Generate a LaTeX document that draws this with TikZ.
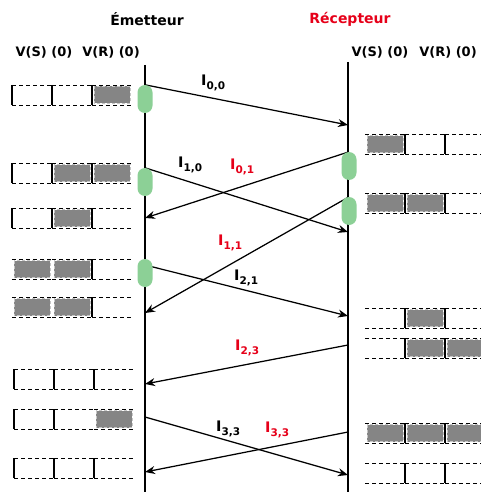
\documentclass[tikz,border=0pt]{standalone}
\usepackage{fontspec}
\setmainfont{DejaVu Sans}
\usepackage{tikz}
\usepackage{xcolor}
\usetikzlibrary{arrows.meta,backgrounds}

\definecolor{rouge}{RGB}{230,0,25}
\definecolor{vert}{RGB}{140,208,150}
\definecolor{gris}{RGB}{133,133,133}

\newcommand{\etiq}[1]{I\raisebox{-0.45ex}{\fontsize{10.5}{11}\selectfont #1}}

\newcommand{\rangee}[4]{%
	\foreach \c in {#3} {\ifnum\c>0 \filldraw[fill=gris, draw=gray!45, densely dashed, line width=0.7] (#1+\c*40-38, #2+1.5) rectangle (#1+\c*40-2, #2+18.5);\fi}
	\foreach \c in {0,1,2} {\draw[pointille] (#1+\c*40, #2) -- ++(40,0) (#1+\c*40, #2+20) -- ++(40,0);}
	\foreach \s in {#4} {\draw[line width=1.3] (#1+\s*40, #2) -- ++(0,20);}
}

\begin{document}
\begin{tikzpicture}[x=1pt,y=-1pt]
	\tikzstyle{fleche} = [-{Stealth[length=10pt,width=8pt]}, line width=1.25]
	\tikzstyle{axe} = [line width=1.5]
	\tikzstyle{pointille} = [dash pattern=on 4pt off 3pt, line width=0.9]
	\tikzstyle{pilule} = [fill=vert, rounded corners=7.5pt, minimum width=15pt, minimum height=28pt, inner sep=0pt]
	\tikzstyle{titre} = [font=\fontsize{14}{16}\selectfont\bfseries, inner sep=0pt]
	\tikzstyle{entete} = [font=\fontsize{13}{15}\selectfont\bfseries, inner sep=0pt]
	\tikzstyle{lbl} = [font=\fontsize{14.5}{16}\selectfont\bfseries, anchor=west, inner sep=0pt]
	\useasboundingbox (0,0) rectangle (481,492);
		\node[titre] (emet) at (147,19) {Émetteur};
		\node[titre, text=rouge] (recep) at (350,19) {Récepteur};
		\node[entete] (vsE) at (44,52) {V(S) (0)};
		\node[entete] (vrE) at (111,52) {V(R) (0)};
		\node[entete] (vsR) at (380,52) {V(S) (0)};
		\node[entete] (vrR) at (448,52) {V(R) (0)};
		\coordinate (eHaut) at (145,65);
		\coordinate (eBas) at (145,492);
		\coordinate (rHaut) at (348,62);
		\coordinate (rBas) at (348,492);
		\node[pilule] (pE1) at (145,99) {};
		\node[pilule] (pE2) at (145,182) {};
		\node[pilule] (pE3) at (145,273) {};
		\node[pilule] (pR1) at (349,166) {};
		\node[pilule] (pR2) at (349,211) {};
		\coordinate (dE3) at (145,265);
		\coordinate (dR6) at (348,345);
		\coordinate (dE7) at (145,417);
		\coordinate (dR8) at (348,432);
		\coordinate (r1) at (348,125);
		\coordinate (r2) at (348,232);
		\coordinate (e3) at (145,218);
		\coordinate (e4) at (145,313);
		\coordinate (r5) at (348,316);
		\coordinate (e6) at (145,384);
		\coordinate (r7) at (348,475);
		\coordinate (e8) at (145,472);
	\begin{scope}[on background layer]
	\draw[axe] (eHaut) -- (eBas);
	\draw[axe] (rHaut) -- (rBas);
	\draw[fleche] (pE1.north) -- (r1);
	\draw[fleche] (pE2.north) -- (r2);
	\draw[fleche] (pR1.north) -- (e3);
	\draw[fleche] (pR2.north) -- (e4);
	\draw[fleche] (dE3) -- (r5);
	\draw[fleche] (dR6) -- (e6);
	\draw[fleche] (dE7) -- (r7);
	\draw[fleche] (dR8) -- (e8);
	\end{scope}
		\node[lbl] (i00) at (201,83) {\etiq{0,0}};
		\node[lbl] (i10) at (178,165) {\etiq{1,0}};
		\node[lbl, text=rouge] (i01) at (230,167) {\etiq{0,1}};
		\node[lbl, text=rouge] (i11) at (218,243) {\etiq{1,1}};
		\node[lbl] (i21) at (234,278) {\etiq{2,1}};
		\node[lbl, text=rouge] (i23) at (235,348) {\etiq{2,3}};
		\node[lbl] (i33) at (216,429) {\etiq{3,3}};
		\node[lbl, text=rouge] (j33) at (265,430) {\etiq{3,3}};
	\rangee{12}{85}{3}{0,1,2}
	\rangee{12}{163}{2,3}{0,1,2}
	\rangee{12}{208}{2}{0,1,2}
	\rangee{12}{259}{1,2}{2}
	\rangee{12}{297}{1,2}{2}
	\rangee{14}{369}{0}{0,1,2}
	\rangee{14}{409}{3}{0,1}
	\rangee{14}{458}{0}{0,1,2}
	\rangee{365}{134}{1}{1,2}
	\rangee{365}{193}{1,2}{1,2}
	\rangee{365}{308}{2}{1,2}
	\rangee{365}{338}{2,3}{1,2}
	\rangee{365}{423}{1,2,3}{1,2}
	\rangee{365}{463}{0}{1,2}
\end{tikzpicture}
\end{document}
